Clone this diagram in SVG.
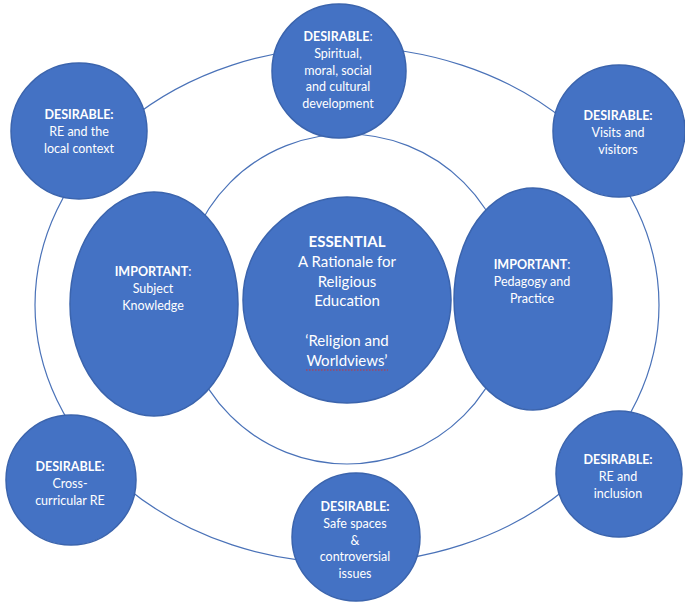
<svg xmlns="http://www.w3.org/2000/svg" width="685" height="604" viewBox="0 0 685 604">
<style>
.ring{fill:none;stroke:#4a72b8;stroke-width:1.2}
.n{fill:#4472c4;stroke:#3b64ad;stroke-width:1.5}
text{font-family:Lato,"Open Sans","Liberation Sans",sans-serif;fill:#ffffff;text-anchor:middle;font-size:12.5px}
.b{font-weight:bold}
.c{font-size:15px}
</style>
<rect width="685" height="604" fill="#ffffff"/>
<g id="connectors">
<ellipse class="ring" cx="347" cy="305" rx="312" ry="258"/>
<circle class="ring" cx="347" cy="299" r="165"/>
</g>
<g id="center">
<ellipse class="n" cx="347" cy="300" rx="104" ry="103"/>
<text class="c" x="347" y="247"><tspan class="b">ESSENTIAL</tspan><tspan x="347" dy="20">A Rationale for</tspan><tspan x="347" dy="19.5">Religious</tspan><tspan x="347" dy="19.5">Education</tspan><tspan x="347" dy="40">‘Religion and</tspan><tspan x="347" dy="20">Worldviews’</tspan></text>
<line x1="306" y1="370" x2="388" y2="370" stroke="#d03030" stroke-width="1" stroke-dasharray="1.5,1.5"/>
</g>
<g id="important-left">
<ellipse class="n" cx="154" cy="304" rx="84" ry="112"/>
<text x="153" y="276"><tspan class="b">IMPORTANT</tspan>:<tspan x="153" dy="17">Subject</tspan><tspan x="153" dy="16.5">Knowledge</tspan></text>
</g>
<g id="important-right">
<ellipse class="n" cx="533" cy="299" rx="79" ry="111"/>
<text x="532" y="269"><tspan class="b">IMPORTANT</tspan>:<tspan x="532" dy="17">Pedagogy and</tspan><tspan x="532" dy="16.5">Practice</tspan></text>
</g>
<g id="desirable-top">
<circle class="n" cx="339" cy="71" r="67"/>
<text x="338" y="41"><tspan class="b">DESIRABLE</tspan>:<tspan x="338" dy="16.5">Spiritual,</tspan><tspan x="338" dy="17">moral, social</tspan><tspan x="338" dy="16.5">and cultural</tspan><tspan x="338" dy="17">development</tspan></text>
</g>
<g id="desirable-top-left">
<circle class="n" cx="79" cy="131" r="68"/>
<text x="79" y="119"><tspan class="b">DESIRABLE:</tspan><tspan x="79" dy="17">RE and the</tspan><tspan x="79" dy="17">local context</tspan></text>
</g>
<g id="desirable-top-right">
<circle class="n" cx="619" cy="131" r="66"/>
<text x="618" y="120"><tspan class="b">DESIRABLE:</tspan><tspan x="618" dy="16.5">Visits and</tspan><tspan x="618" dy="17">visitors</tspan></text>
</g>
<g id="desirable-bottom-left">
<circle class="n" cx="71" cy="480" r="65"/>
<text x="70" y="471"><tspan class="b">DESIRABLE:</tspan><tspan x="70" dy="16.5">Cross-</tspan><tspan x="70" dy="17">curricular RE</tspan></text>
</g>
<g id="desirable-bottom">
<circle class="n" cx="356" cy="537" r="64"/>
<text x="355" y="511"><tspan class="b">DESIRABLE:</tspan><tspan x="355" dy="16.5">Safe spaces</tspan><tspan x="355" dy="17">&amp;</tspan><tspan x="355" dy="16.5">controversial</tspan><tspan x="355" dy="17">issues</tspan></text>
</g>
<g id="desirable-bottom-right">
<circle class="n" cx="619" cy="474" r="63"/>
<text x="618" y="464"><tspan class="b">DESIRABLE:</tspan><tspan x="618" dy="17">RE and</tspan><tspan x="618" dy="17">inclusion</tspan></text>
</g>
</svg>
